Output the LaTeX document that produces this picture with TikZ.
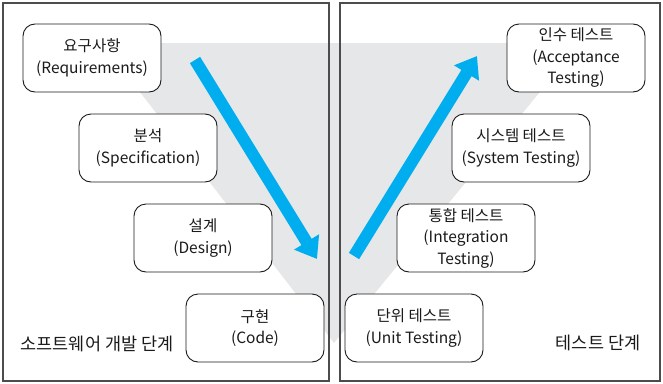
\documentclass[tikz,border=0pt]{standalone}
\usepackage{fontspec}
\setmainfont{Noto Sans CJK KR}
\usetikzlibrary{arrows.meta}
\definecolor{vgray}{HTML}{E6E7E8}
\definecolor{vblue}{HTML}{00AEEF}
\definecolor{ink}{HTML}{1A1A1A}

\begin{document}
\begin{tikzpicture}[
  x=1pt, y=-1pt,
  phase/.style={draw=ink, fill=white, line width=0.9pt, rounded corners=12pt, minimum width=138pt, minimum height=68pt, align=center, text=ink, font=\fontsize{15.5}{21.5}\selectfont},
  panel/.style={draw=black!70, line width=1.2pt},
  stagelabel/.style={text=ink, font=\fontsize{17.5}{20}\selectfont},
  flow/.style={vblue, line width=12pt, -{Triangle[length=20pt,width=28pt]}}
]
\useasboundingbox (0,0) rectangle (663,383);
\fill[vgray] (102,43) -- (580,43) -- (334,343) -- cycle;
\draw[panel] (3,3) rectangle (329,381);
\draw[panel] (340,3) rectangle (660,381);

% development side
\node[phase] (req) at (92,58) {요구사항\\(Requirements)};
\node[phase] (spec) at (148,148) {분석\\(Specification)};
\node[phase] (design) at (203,238) {설계\\(Design)};
\node[phase] (code) at (255,328) {구현\\(Code)};
\node[stagelabel] (devlabel) at (97,344) {소프트웨어 개발 단계};

% test side
\node[phase] (unit) at (414,328) {단위 테스트\\(Unit Testing)};
\node[phase] (integ) at (466,238) {통합 테스트\\(Integration\\Testing)};
\node[phase] (system) at (521,148) {시스템 테스트\\(System Testing)};
\node[phase] (accept) at (576,58) {인수 테스트\\(Acceptance\\Testing)};
\node[stagelabel] (testlabel) at (598,343) {테스트 단계};

\coordinate (downstart) at (195,60);
\coordinate (downend) at (317,259);
\coordinate (upstart) at (354,256);
\coordinate (upend) at (477,56);
\draw[flow] (downstart) -- (downend);
\draw[flow] (upstart) -- (upend);
\end{tikzpicture}
\end{document}
